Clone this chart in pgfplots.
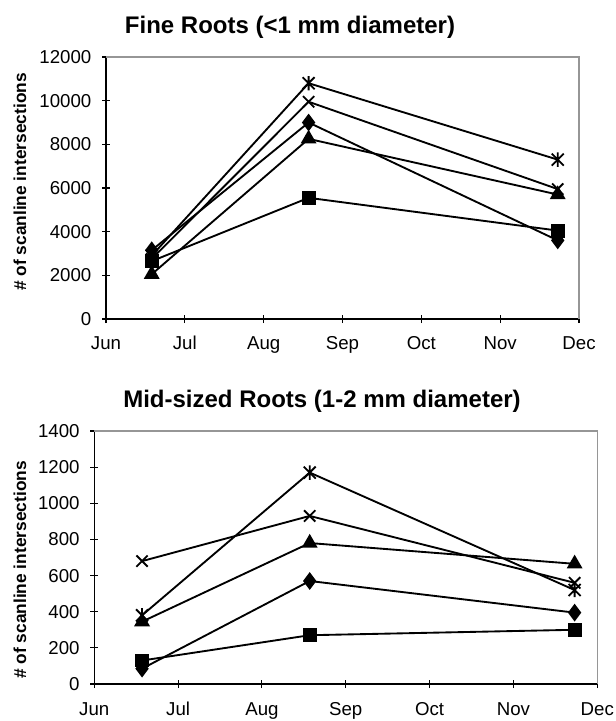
\documentclass[border=0pt]{standalone}
\usepackage{pgfplots}
\pgfplotsset{compat=1.18}
\usepackage{fontspec}
\setmainfont{Liberation Sans}
\definecolor{framegray}{RGB}{150,150,150}
\pgfdeclareplotmark{xstar}{%
  \pgfpathmoveto{\pgfqpoint{-\pgfplotmarksize}{-\pgfplotmarksize}}%
  \pgfpathlineto{\pgfqpoint{\pgfplotmarksize}{\pgfplotmarksize}}%
  \pgfpathmoveto{\pgfqpoint{-\pgfplotmarksize}{\pgfplotmarksize}}%
  \pgfpathlineto{\pgfqpoint{\pgfplotmarksize}{-\pgfplotmarksize}}%
  \pgfpathmoveto{\pgfqpoint{0pt}{-1.2\pgfplotmarksize}}%
  \pgfpathlineto{\pgfqpoint{0pt}{1.2\pgfplotmarksize}}%
  \pgfusepathqstroke}
\pgfplotsset{
  rootaxis/.style={
    scale only axis,
    axis x line*=bottom, axis y line*=left,
    axis line style={black, line width=0.9pt, -},
    xmin=0, xmax=6,
    xtick={0,1,2,3,4,5,6},
    xticklabels={Jun,Jul,Aug,Sep,Oct,Nov,Dec},
    tick align=center,
    major tick length=6pt,
    tick style={black, line width=0.8pt},
    /pgf/number format/assume math mode=true,
    /pgf/number format/set thousands separator={},
    scaled y ticks=false,
    tick label style={font=\fontsize{14}{16}\selectfont},
    xticklabel style={anchor=base, yshift=-19.5pt},
    yticklabel style={xshift=-4.5pt},
    every axis plot/.append style={black, line width=1.4pt, mark options={solid, line width=1.4pt}},
    clip=false,
  },
}
\begin{document}
\begin{tikzpicture}
\path[use as bounding box] (0,0) rectangle (462pt,-540.75pt);
% titles
\node[anchor=base, font=\fontsize{18}{20}\selectfont\bfseries] at (217.5pt,-24.75pt) {Fine Roots (<1 mm diameter)};
\node[anchor=base, font=\fontsize{18}{20}\selectfont\bfseries] at (241.5pt,-305.25pt) {Mid-sized Roots (1-2 mm diameter)};
\node[rotate=90, font=\fontsize{13}{15}\selectfont\bfseries] at (15pt,-136.5pt) {\# of scanline intersections};
\node[rotate=90, font=\fontsize{13}{15}\selectfont\bfseries] at (15pt,-427.5pt) {\# of scanline intersections};

\begin{axis}[rootaxis,
  at={(79.5pt,-239.25pt)}, anchor=south west,
  width=354.75pt, height=196.5pt,
  ymin=0, ymax=12000, ytick={0,2000,4000,6000,8000,10000,12000}]
\draw[framegray, line width=0.8pt] (rel axis cs:0,1) -- (rel axis cs:1,1) -- (rel axis cs:1,0);
\addplot[mark=diamond*, mark size=5.5pt] coordinates {(0.58,3150) (2.57,9000) (5.73,3600)};
\addplot[mark=square*, mark size=4.5pt] coordinates {(0.58,2650) (2.57,5550) (5.73,4050)};
\addplot[mark=triangle*, mark size=5.5pt] coordinates {(0.58,2050) (2.57,8250) (5.73,5700)};
\addplot[mark=x, mark size=6pt] coordinates {(0.58,2750) (2.57,9950) (5.73,5950)};
\addplot[mark=xstar, mark size=4.5pt] coordinates {(0.58,2900) (2.57,10800) (5.73,7300)};
\end{axis}

\begin{axis}[rootaxis,
  at={(70.7pt,-513pt)}, anchor=south west,
  width=377.25pt, height=189.75pt,
  ymin=0, ymax=1400, ytick={0,200,400,600,800,1000,1200,1400},
  xticklabel style={yshift=-1pt}]
\draw[framegray, line width=0.8pt] (rel axis cs:0,1) -- (rel axis cs:1,1) -- (rel axis cs:1,0);
\addplot[mark=diamond*, mark size=5.5pt] coordinates {(0.57,85) (2.57,570) (5.73,395)};
\addplot[mark=square*, mark size=4.5pt] coordinates {(0.57,130) (2.57,270) (5.73,300)};
\addplot[mark=triangle*, mark size=5.5pt] coordinates {(0.57,345) (2.57,780) (5.73,665)};
\addplot[mark=x, mark size=6pt] coordinates {(0.57,680) (2.57,930) (5.73,560)};
\addplot[mark=xstar, mark size=4.5pt] coordinates {(0.57,380) (2.57,1170) (5.73,520)};
\end{axis}
\end{tikzpicture}
\end{document}
